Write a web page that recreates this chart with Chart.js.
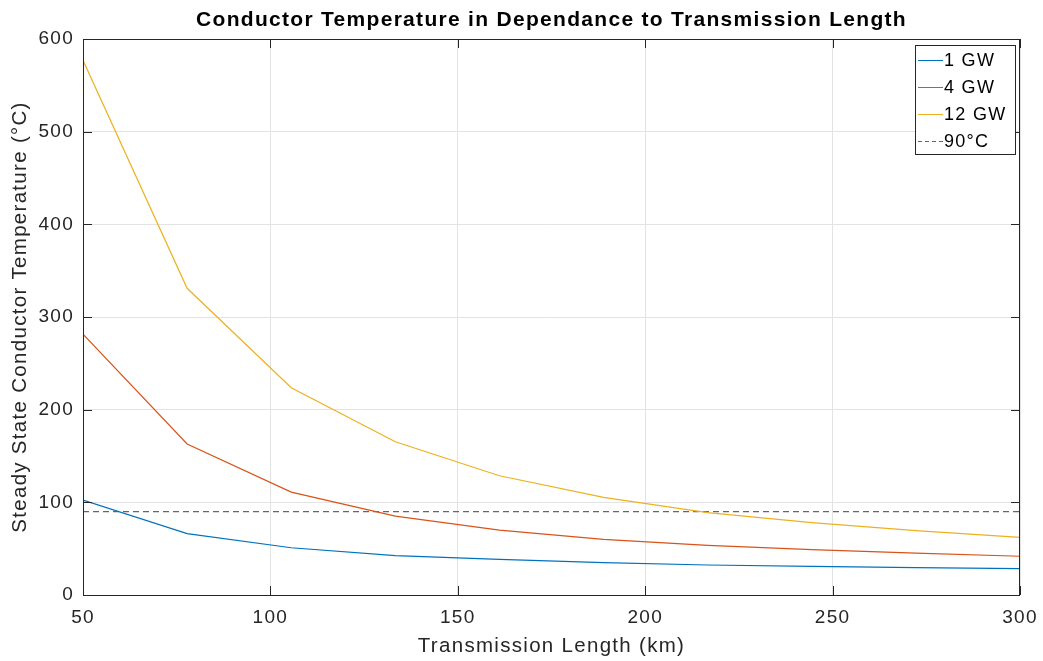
<!DOCTYPE html>
<html>
<head>
<meta charset="utf-8">
<script src="https://cdn.jsdelivr.net/npm/chart.js@4/dist/chart.umd.min.js"></script>
<style>
  html, body { margin: 0; padding: 0; background: #fff; }
  #wrap { width: 1043px; height: 661px; }
</style>
</head>
<body>
<div id="wrap"><canvas id="chart" width="1043" height="661"></canvas></div>
<script>
const lengthsKm = [50, 77.78, 105.56, 133.33, 161.11, 188.89, 216.67, 244.44, 272.22, 300];
const temp1GW = [102.5, 66.2, 51, 42.4, 38.5, 34.9, 32.4, 30.8, 29.5, 28.4];
const temp4GW = [281.6, 163, 111, 85.2, 70.1, 60.1, 53.6, 49.0, 45.2, 41.8];
const temp12GW = [577, 331, 223.7, 165.4, 128.7, 105.4, 88.8, 78.0, 69.5, 62.2];
const limitX = [50, 300];
const limitY = [90, 90];
const xTicks = [50, 100, 150, 200, 250, 300];
const yTicks = [0, 100, 200, 300, 400, 500, 600];

const seriesNames = ["1 GW", "4 GW", "12 GW", "90°C"];
const seriesColors = ["#0072BD", "#D95319", "#EDB120", "#666666"];

const FONT = "'Liberation Sans', Arial, sans-serif";
const pts = (xs, ys) => xs.map((x, i) => ({x, y: ys[i]}));

// the reference text is a bit wider than Arial, so space the letters out
const spacingPlugin = {
  id: "spacing",
  beforeInit(chart) { chart.ctx.letterSpacing = "1.3px"; },
  beforeUpdate(chart) { chart.ctx.letterSpacing = "1.3px"; }
};

// MATLAB-like frame: box, inward ticks, title, legend inside the axes
const framePlugin = {
  id: "frame",
  afterDraw(chart) {
    const {ctx, chartArea: a, scales: {x, y}} = chart;
    ctx.save();
    ctx.strokeStyle = "#262626";
    ctx.lineWidth = 1;
    ctx.strokeRect(a.left + 0.5, a.top + 0.5, a.right - a.left - 1, a.bottom - a.top);
    const tl = 9;
    ctx.beginPath();
    xTicks.forEach(v => {
      const px = Math.round(x.getPixelForValue(v)) + 0.5;
      ctx.moveTo(px, a.bottom); ctx.lineTo(px, a.bottom - tl);
      ctx.moveTo(px, a.top); ctx.lineTo(px, a.top + tl);
    });
    yTicks.forEach(v => {
      const py = Math.round(y.getPixelForValue(v)) + 0.5;
      ctx.moveTo(a.left, py); ctx.lineTo(a.left + tl, py);
      ctx.moveTo(a.right, py); ctx.lineTo(a.right - tl, py);
    });
    ctx.stroke();

    ctx.fillStyle = "#000";
    ctx.font = "bold 21px " + FONT;
    ctx.textAlign = "center";
    ctx.textBaseline = "middle";
    ctx.fillText("Conductor Temperature in Dependance to Transmission Length", (a.left + a.right) / 2, 20);

    // legend
    const bx = 915, by = 45, bw = 100, bh = 109;
    ctx.fillStyle = "#fff";
    ctx.fillRect(bx, by, bw, bh);
    ctx.strokeStyle = "#262626";
    ctx.strokeRect(bx + 0.5, by + 0.5, bw, bh);
    ctx.font = "18px " + FONT;
    ctx.textAlign = "left";
    seriesNames.forEach((name, i) => {
      const ly = by + 15 + i * 27;
      ctx.beginPath();
      ctx.strokeStyle = seriesColors[i];
      ctx.setLineDash(i === 3 ? [4, 3] : []);
      ctx.moveTo(bx + 3, ly + 0.5); ctx.lineTo(bx + 28, ly + 0.5);
      ctx.stroke();
      ctx.setLineDash([]);
      ctx.fillStyle = "#000";
      ctx.fillText(name, bx + 29, ly + 1);
    });
    ctx.restore();
  }
};

new Chart(document.getElementById("chart"), {
  type: "line",
  data: {
    datasets: [
      {label: seriesNames[0], data: pts(lengthsKm, temp1GW), borderColor: seriesColors[0]},
      {label: seriesNames[1], data: pts(lengthsKm, temp4GW), borderColor: seriesColors[1]},
      {label: seriesNames[2], data: pts(lengthsKm, temp12GW), borderColor: seriesColors[2]},
      {label: seriesNames[3], data: pts(limitX, limitY), borderColor: seriesColors[3], borderDash: [6, 4]}
    ]
  },
  options: {
    responsive: false,
    animation: false,
    layout: {padding: {top: 39, right: 23, left: 0, bottom: 0}},
    elements: {
      line: {borderWidth: 1.2, tension: 0, fill: false},
      point: {radius: 0, hoverRadius: 0}
    },
    plugins: {legend: {display: false}, tooltip: {enabled: false}, title: {display: false}},
    scales: {
      x: {
        type: "linear", min: 50, max: 300,
        afterBuildTicks: s => { s.ticks = xTicks.map(v => ({value: v})); },
        afterFit: s => { s.height = 66; s.paddingLeft = 0; s.paddingRight = 0; },
        grid: {color: "#e3e3e3", drawTicks: false},
        border: {display: false},
        ticks: {color: "#262626", padding: 11, font: {family: FONT, size: 19}, maxRotation: 0},
        title: {display: true, text: "Transmission Length (km)", color: "#262626",
                font: {family: FONT, size: 20.5}, padding: {top: 0, bottom: 2}}
      },
      y: {
        type: "linear", min: 0, max: 600,
        afterBuildTicks: s => { s.ticks = yTicks.map(v => ({value: v})); },
        afterFit: s => { s.width = 83; s.paddingTop = 0; s.paddingBottom = 0; },
        grid: {color: "#e3e3e3", drawTicks: false},
        border: {display: false},
        ticks: {color: "#262626", padding: 9, font: {family: FONT, size: 19}},
        title: {display: true, text: "Steady State Conductor Temperature (°C)", color: "#262626",
                font: {family: FONT, size: 20.5}, padding: {top: 8, bottom: 0}}
      }
    }
  },
  plugins: [spacingPlugin, framePlugin]
});
</script>
</body>
</html>
